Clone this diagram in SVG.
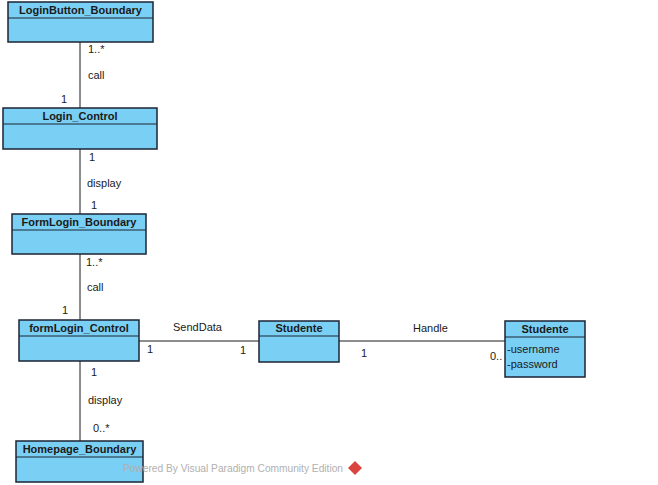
<svg xmlns="http://www.w3.org/2000/svg" width="658" height="485" viewBox="0 0 658 485">
<style>
.box{fill:#7acff5;stroke:#1c2533;stroke-width:1.5}
.div{stroke:#1c2533;stroke-width:1}
.name{font-family:"Liberation Sans",Arial,sans-serif;font-size:11px;font-weight:bold;fill:#1a1a1a;text-anchor:middle}
.lbl{font-family:"Liberation Sans",Arial,sans-serif;font-size:11px;fill:#1a1a1a}
.attr{font-family:"Liberation Sans",Arial,sans-serif;font-size:11px;fill:#1a1a1a}
.conn{stroke:#1a1a1a;stroke-width:1;fill:none}
.wm{font-family:"Liberation Sans",Arial,sans-serif;font-size:11px;fill:#b0b0b0}
</style>
<rect width="658" height="485" fill="#ffffff"/>
<g id="connectors">
<line class="conn" x1="80" y1="42" x2="80" y2="108"/>
<line class="conn" x1="80" y1="149" x2="80" y2="214"/>
<line class="conn" x1="80" y1="254" x2="80" y2="320"/>
<line class="conn" x1="80" y1="361" x2="80" y2="441"/>
<line class="conn" x1="139" y1="341" x2="259" y2="341"/>
<line class="conn" x1="339" y1="341" x2="505" y2="341"/>
<text class="lbl" x="88" y="53">1..*</text>
<text class="lbl" x="88" y="79">call</text>
<text class="lbl" x="61" y="103">1</text>
<text class="lbl" x="89" y="161">1</text>
<text class="lbl" x="87" y="187">display</text>
<text class="lbl" x="91" y="209">1</text>
<text class="lbl" x="86" y="266">1..*</text>
<text class="lbl" x="87" y="291">call</text>
<text class="lbl" x="62" y="314">1</text>
<text class="lbl" x="147" y="353">1</text>
<text class="lbl" x="173" y="331">SendData</text>
<text class="lbl" x="240" y="354">1</text>
<text class="lbl" x="361" y="357">1</text>
<text class="lbl" x="413" y="332">Handle</text>
<text class="lbl" x="490" y="360">0..</text>
<text class="lbl" x="91" y="376">1</text>
<text class="lbl" x="88" y="404">display</text>
<text class="lbl" x="93" y="432">0..*</text>
</g>
<g id="LoginButton_Boundary">
<rect class="box" x="8" y="2" width="145" height="40"/>
<line class="div" x1="8" y1="18" x2="153" y2="18"/>
<text class="name" x="80.5" y="14">LoginButton_Boundary</text>
</g>
<g id="Login_Control">
<rect class="box" x="3" y="108" width="154" height="41"/>
<line class="div" x1="3" y1="124" x2="157" y2="124"/>
<text class="name" x="80" y="120">Login_Control</text>
</g>
<g id="FormLogin_Boundary">
<rect class="box" x="12" y="214" width="134" height="40"/>
<line class="div" x1="12" y1="230" x2="146" y2="230"/>
<text class="name" x="79" y="226">FormLogin_Boundary</text>
</g>
<g id="formLogin_Control">
<rect class="box" x="19" y="320" width="120" height="41"/>
<line class="div" x1="19" y1="336" x2="139" y2="336"/>
<text class="name" x="79" y="332">formLogin_Control</text>
</g>
<g id="Homepage_Boundary">
<rect class="box" x="16" y="441" width="127" height="41"/>
<line class="div" x1="16" y1="457" x2="143" y2="457"/>
<text class="name" x="79.5" y="453">Homepage_Boundary</text>
</g>
<g id="Studente_1">
<rect class="box" x="259" y="321" width="80" height="41"/>
<line class="div" x1="259" y1="336" x2="339" y2="336"/>
<text class="name" x="299" y="332">Studente</text>
</g>
<g id="Studente_2">
<rect class="box" x="505" y="321" width="80" height="56"/>
<line class="div" x1="505" y1="337" x2="585" y2="337"/>
<text class="name" x="545" y="333">Studente</text>
<text class="attr" x="507" y="353">-username</text>
<text class="attr" x="507" y="368">-password</text>
</g>
<g id="watermark">
<text class="wm" x="123" y="472" textLength="220" lengthAdjust="spacingAndGlyphs">Powered By Visual Paradigm Community Edition</text>
<polygon points="355,461 362,468 355,475 348,468" fill="#d9443f"/>
</g>
</svg>
